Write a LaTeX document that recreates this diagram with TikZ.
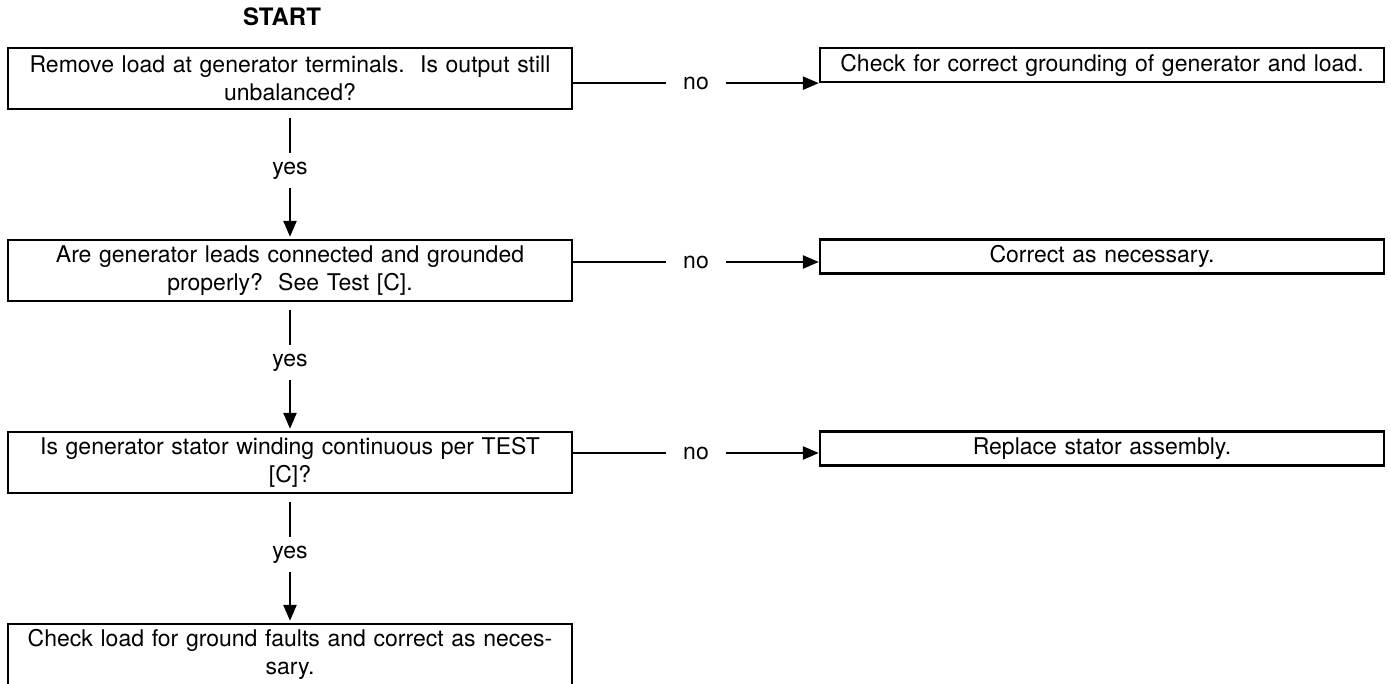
\documentclass[tikz,border=0pt]{standalone}
\usepackage{fontspec}
\setmainfont{TeX Gyre Heros}
\usetikzlibrary{arrows.meta}
\begin{document}
\begin{tikzpicture}[x=1pt, y=-1pt,
  every node/.style={font=\fontsize{23}{28}\selectfont},
  quest/.style={draw, line width=2.3pt, text width=548pt, inner xsep=8pt, inner ysep=0pt, minimum height=61pt, align=center},
  answer/.style={draw, line width=2.3pt, text width=548pt, inner xsep=8pt, inner ysep=0pt, minimum height=34pt, align=center},
  flow/.style={line width=2.3pt, -{Triangle[length=16pt,width=13pt]}},
  lbl/.style={fill=white, inner xsep=17pt, inner ysep=9pt}]
\useasboundingbox (0,0) rectangle (1391,684);
\node[font=\bfseries\fontsize{24}{28}\selectfont] (start) at (282,17) {START};

\node[quest] (q1) at (290,78.5) {Remove load at generator terminals.\ \ Is output still\\unbalanced?};
\node[quest] (q2) at (290,270.5) {Are generator leads connected and grounded\\properly?\ \ See Test [C].};
\node[quest] (q3) at (290,462.5) {Is generator stator winding continuous per TEST\\{[C]}?};
\node[quest] (q4) at (290,654.5) {Check load for ground faults and correct as neces-\\sary.};

\node[answer] (a1) at (1102,65) {Check for correct grounding of generator and load.};
\node[answer] (a2) at (1102,256.5) {Correct as necessary.};
\node[answer] (a3) at (1102,448.5) {Replace stator assembly.};

\path[draw,flow,shorten <=8pt,shorten >=2pt] (q1.south) -- node[lbl,pos=0.47] {yes} (q2.north);
\path[draw,flow,shorten <=8pt,shorten >=2pt] (q2.south) -- node[lbl,pos=0.47] {yes} (q3.north);
\path[draw,flow,shorten <=8pt,shorten >=2pt] (q3.south) -- node[lbl,pos=0.47] {yes} (q4.north);

\path[draw,flow] (q1.east |- a1.south west) -- node[lbl] {no} (a1.south west);
\path[draw,flow] ([yshift=8.5pt]q2.east) -- node[lbl] {no} ([yshift=-5.5pt]a2.west);
\path[draw,flow] ([yshift=9.5pt]q3.east) -- node[lbl] {no} ([yshift=-4.5pt]a3.west);
\end{tikzpicture}
\end{document}
